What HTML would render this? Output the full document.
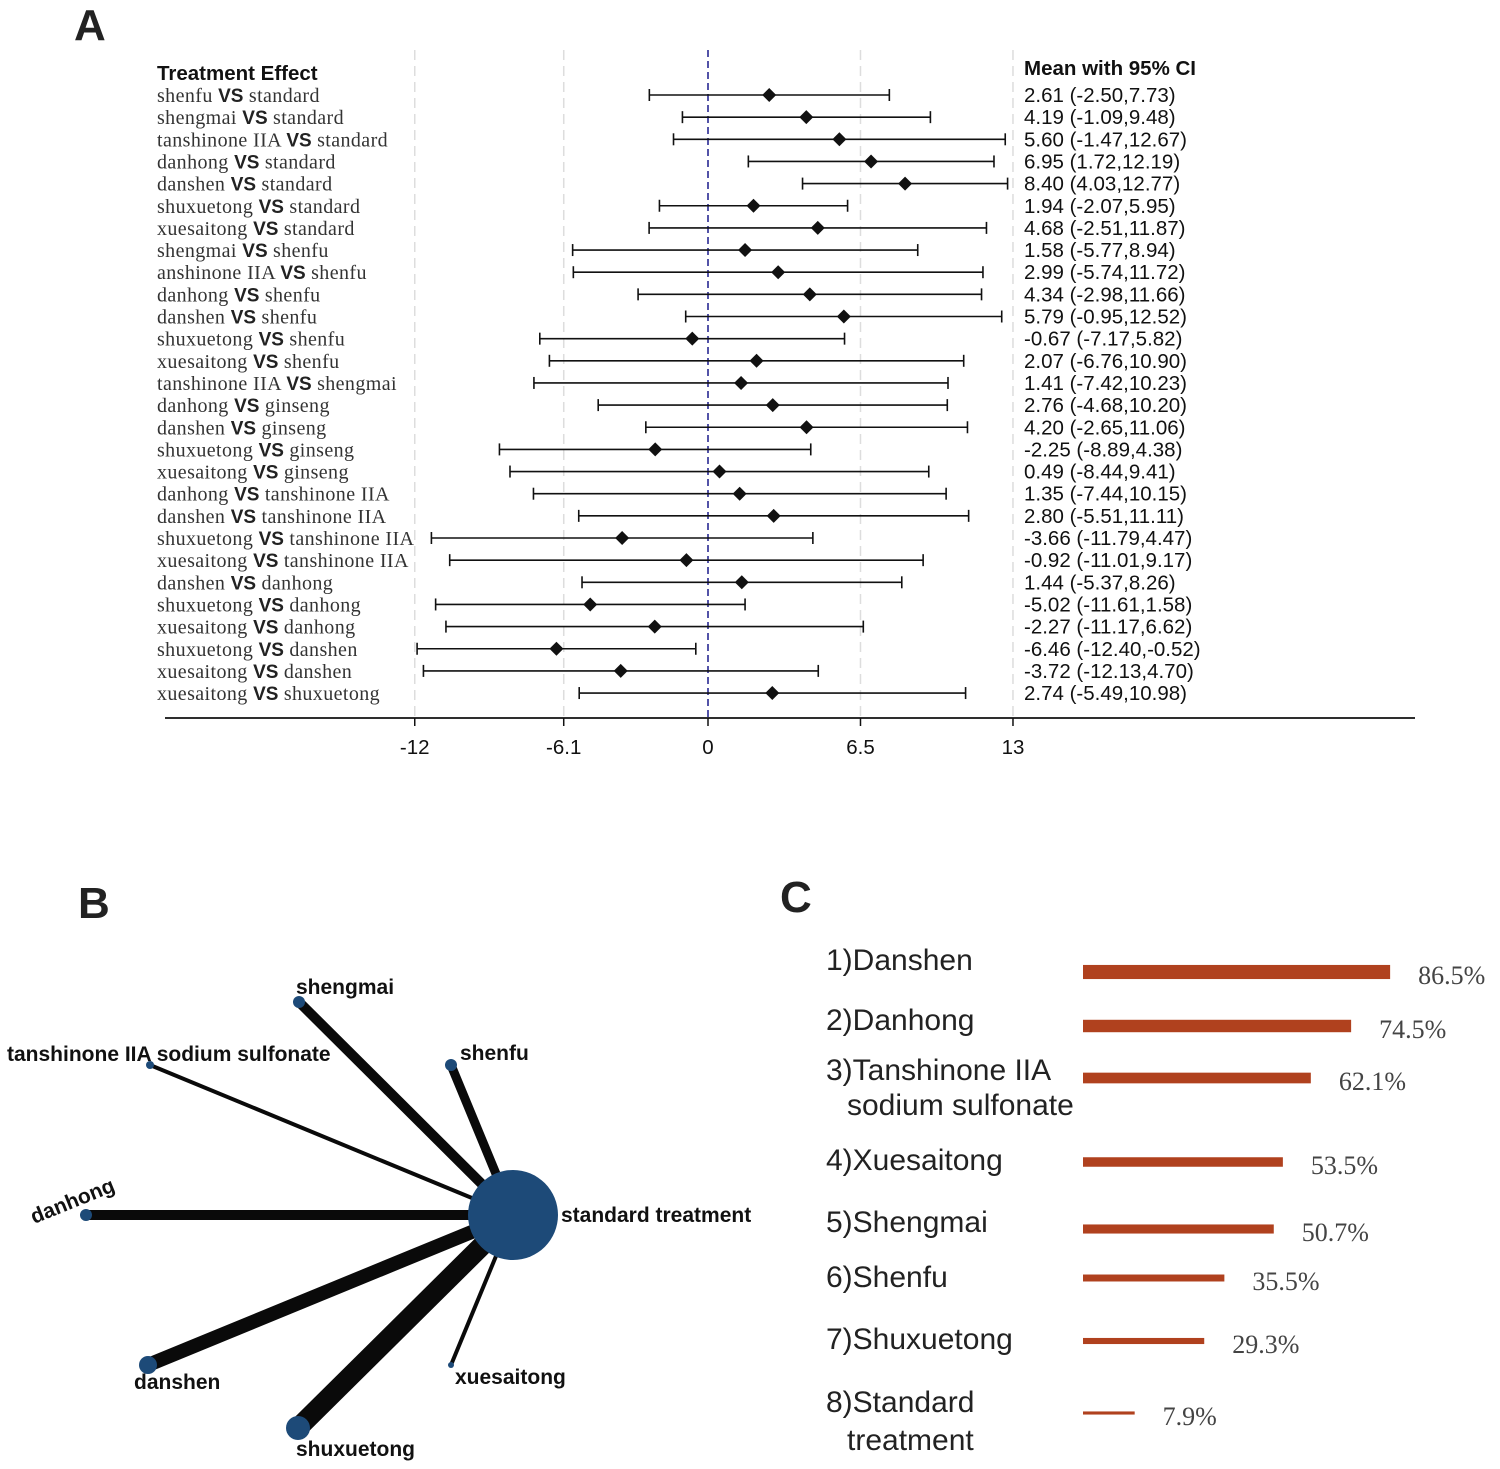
<!DOCTYPE html>
<html><head><meta charset="utf-8"><style>
html,body{margin:0;padding:0;background:#fff;}
svg{display:block;}
.lab{font-family:"Liberation Serif",serif;font-size:20px;letter-spacing:0.4px;fill:#333;}
.vs{font-family:"Liberation Sans",sans-serif;font-weight:bold;font-size:19px;letter-spacing:0;fill:#222;}
.ci{font-family:"Liberation Sans",sans-serif;font-size:20.5px;fill:#111;}
.hd{font-family:"Liberation Sans",sans-serif;font-weight:bold;font-size:20.5px;fill:#111;}
.big{font-family:"Liberation Sans",sans-serif;font-weight:bold;font-size:44px;fill:#222;}
.node{font-family:"Liberation Sans",sans-serif;font-weight:bold;font-size:21px;fill:#111;}
.rk{font-family:"Liberation Sans",sans-serif;font-size:30px;fill:#222;}
.pct{font-family:"Liberation Serif",serif;font-size:26px;fill:#444;}
</style></head><body>
<svg id="fig" width="1500" height="1469" viewBox="0 0 1500 1469" xmlns="http://www.w3.org/2000/svg">
<text class="big" x="74" y="40">A</text>
<text class="big" x="78" y="918">B</text>
<text class="big" x="780" y="912">C</text>
<text class="hd" x="157" y="80">Treatment Effect</text>
<text class="hd" x="1024" y="75">Mean with 95% CI</text>
<g id="forest"></g>
<g id="net"></g>
<g id="rank"></g>
</svg>
<script>
const leftDrug=["shenfu","shengmai","tanshinone IIA","danhong","danshen","shuxuetong","xuesaitong","shengmai","anshinone IIA","danhong","danshen","shuxuetong","xuesaitong","tanshinone IIA","danhong","danshen","shuxuetong","xuesaitong ","danhong","danshen","shuxuetong","xuesaitong","danshen","shuxuetong","xuesaitong","shuxuetong","xuesaitong","xuesaitong"];
const rightDrug=["standard","standard","standard","standard","standard","standard","standard","shenfu","shenfu","shenfu","shenfu","shenfu","shenfu","shengmai","ginseng","ginseng","ginseng","ginseng","tanshinone IIA","tanshinone IIA","tanshinone IIA"," tanshinone IIA","danhong","danhong","danhong","danshen","danshen","shuxuetong"];
const means=[2.61,4.19,5.60,6.95,8.40,1.94,4.68,1.58,2.99,4.34,5.79,-0.67,2.07,1.41,2.76,4.20,-2.25,0.49,1.35,2.80,-3.66,-0.92,1.44,-5.02,-2.27,-6.46,-3.72,2.74];
const lows=[-2.50,-1.09,-1.47,1.72,4.03,-2.07,-2.51,-5.77,-5.74,-2.98,-0.95,-7.17,-6.76,-7.42,-4.68,-2.65,-8.89,-8.44,-7.44,-5.51,-11.79,-11.01,-5.37,-11.61,-11.17,-12.40,-12.13,-5.49];
const highs=[7.73,9.48,12.67,12.19,12.77,5.95,11.87,8.94,11.72,11.66,12.52,5.82,10.90,10.23,10.20,11.06,4.38,9.41,10.15,11.11,4.47,9.17,8.26,1.58,6.62,-0.52,4.70,10.98];
const tickVals=[-12.5,-6.15,0,6.5,13];
const tickLabels=["-12","-6.1","0","6.5","13"];
const nodeNames=["shengmai","tanshinone IIA sodium sulfonate","shenfu","danhong","danshen","shuxuetong","xuesaitong"];
const nodeSizes=[6,4,6,6,9,12,3];
const edgeWidths=[10,4,9,10,14,20,4];
const rankNames=[["1)Danshen"],["2)Danhong"],["3)Tanshinone IIA","sodium sulfonate"],["4)Xuesaitong"],["5)Shengmai"],["6)Shenfu"],["7)Shuxuetong"],["8)Standard","treatment"]];
const rankPct=[86.5,74.5,62.1,53.5,50.7,35.5,29.3,7.9];

const NS="http://www.w3.org/2000/svg";
function mk(t,a,p){const e=document.createElementNS(NS,t);for(const k in a)e.setAttribute(k,a[k]);p.appendChild(e);return e;}
const X=v=>708+v*23.46;
const Y=i=>95+i*22.15;
const F=document.getElementById('forest');
tickVals.forEach((v,i)=>{
  const g=mk('line',{x1:X(v),x2:X(v),y1:50,y2:718,stroke:i==2?'#1a1a8c':'#ddd','stroke-width':1.5,'stroke-dasharray':i==2?'7,4':'10,6'},F);
  
  
  const tk=mk('line',{x1:X(v),x2:X(v),y1:718,y2:726,stroke:'#111','stroke-width':1.5},F);
  
  
  const t=mk('text',{x:X(v),y:754,'text-anchor':'middle',class:'ci','font-size':'24'},F);
  
  
  t.textContent=tickLabels[i];
});
const ax=mk('line',{x1:165,x2:1415,y1:718,y2:718,stroke:'#111','stroke-width':1.8},F);


means.forEach((m,i)=>{
  const y=Y(i);
  const l=mk('text',{x:157,y:y+7,class:'lab'},F);
  
  
  const a=mk('tspan',{},l);a.textContent=leftDrug[i]+' ';
  const b=mk('tspan',{class:'vs'},l);b.textContent='VS';
  const c=mk('tspan',{},l);c.textContent=' '+rightDrug[i];
  const ln=mk('line',{x1:X(lows[i]),x2:X(highs[i]),y1:y,y2:y,stroke:'#111','stroke-width':1.6},F);
  
  
  [lows[i],highs[i]].forEach(v=>{const c2=mk('line',{x1:X(v),x2:X(v),y1:y-6,y2:y+6,stroke:'#111','stroke-width':1.6},F);
    
    });
  const cx=X(m);
  const d=mk('polygon',{points:`${cx},${y-7} ${cx+7},${y} ${cx},${y+7} ${cx-7},${y}`,fill:'#111'},F);
  
  
  const t=mk('text',{x:1024,y:y+7,class:'ci'},F);
  
  
  t.textContent=m.toFixed(2)+' ('+lows[i].toFixed(2)+','+highs[i].toFixed(2)+')';
});

const N=document.getElementById('net');
const cx0=513,cy0=1215;
const pos=[[299,1002],[150,1065],[451,1065],[86,1215],[148,1365],[298,1428],[451,1365]];
const lblPos=[[296,994,0],[7,1061,0],[460,1060,0],[34,1224,-22],[134,1389,0],[296,1456,0],[455,1384,0]];
nodeNames.forEach((n,i)=>{
  const e=mk('line',{x1:cx0,y1:cy0,x2:pos[i][0],y2:pos[i][1],stroke:'#0a0a0a','stroke-width':edgeWidths[i]},N);
  
  
});
nodeNames.forEach((n,i)=>{
  const c=mk('circle',{cx:pos[i][0],cy:pos[i][1],r:nodeSizes[i],fill:'#1d4a78'},N);
  
  
  const t=mk('text',{x:lblPos[i][0],y:lblPos[i][1],class:'node',transform:`rotate(${lblPos[i][2]} ${lblPos[i][0]} ${lblPos[i][1]})`},N);
  
  
  t.textContent=n;
});
const hub=mk('ellipse',{cx:cx0,cy:cy0,rx:45,ry:45,fill:'#1d4a78'},N);


const ht=mk('text',{x:561,y:1222,class:'node'},N);


ht.textContent='standard treatment';

const R=document.getElementById('rank');
const rowY=[972,1026,1078,1162,1229,1278,1341,1413];
const labY=[[970],[1030],[1080,1115],[1170],[1232],[1287],[1349],[1412,1450]];
rankPct.forEach((p,i)=>{
  labY[i].forEach((ly,j)=>{
    const t=mk('text',{x:j?847:826,y:ly,class:'rk'},R);
    
    
    t.textContent=rankNames[i][j];
  });
  const w=26+p*3.25, h=2+p*0.14, x0=1083;
  const b=mk('rect',{x:x0,y:rowY[i]-h/2,width:w,height:h,fill:'#b0411e'},R);
  
  
  const t=mk('text',{x:x0+w+28,y:rowY[i]+12,class:'pct'},R);
  
  
  t.textContent=p.toFixed(1)+'%';
});
</script>
</body></html>
